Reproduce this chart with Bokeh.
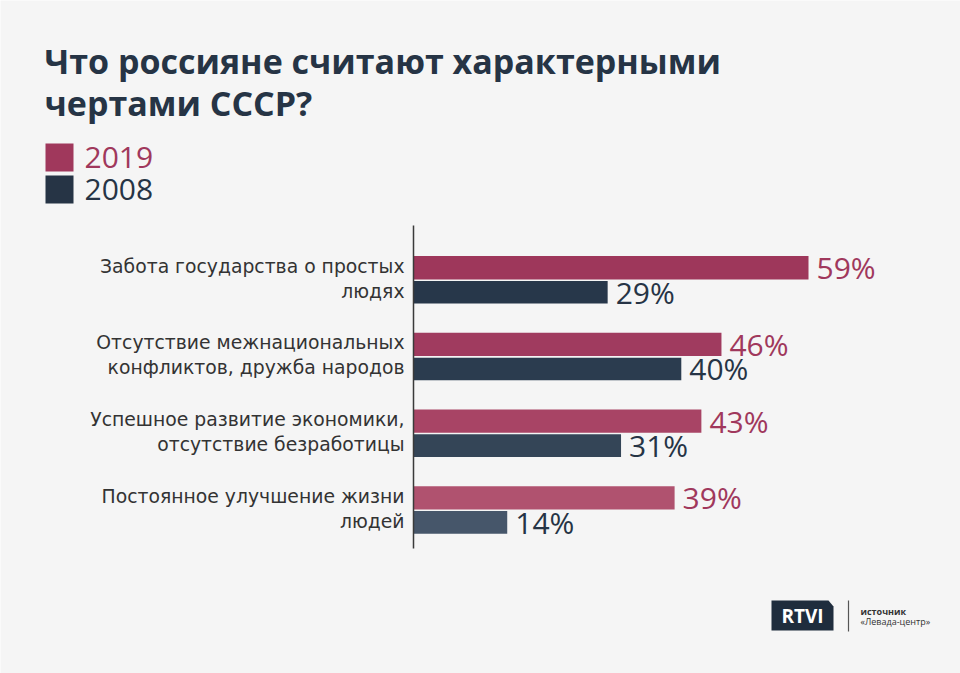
from bokeh.plotting import figure
from bokeh.models import Range1d, Label, PolyAnnotation, ColumnDataSource
from bokeh.core.properties import value
from bokeh.embed import file_html
from bokeh.resources import INLINE

# ---- data ----
categories = [
    "Забота государства о простых\nлюдях",
    "Отсутствие межнациональных\nконфликтов, дружба народов",
    "Успешное развитие экономики,\nотсутствие безработицы",
    "Постоянное улучшение жизни\nлюдей",
]
values_2019 = [59, 46, 43, 39]
values_2008 = [29, 40, 31, 14]
series_names = ["2019", "2008"]

# styles
colors_2019 = ["#9e375b", "#a03b5f", "#a84465", "#b0526f"]
colors_2008 = ["#27374a", "#2b3c4f", "#344557", "#46566a"]
C19 = "#a0385c"
C08 = "#263445"
BG = "#f5f5f5"
FONT = "Open Sans"
CAT_FONT = "DejaVu Sans"

W, H = 960, 673
# layout: axis at px 413, 59% at px 808; group centres at px 279.5 with 76.7 px spacing
PX_PER_UNIT = (808 - 413) / 59.0
X0 = -413 / PX_PER_UNIT
X1 = (W - 413) / PX_PER_UNIT
G_PX = 76.7
Y_TOP = -279.5 / G_PX
Y_BOT = (H - 279.5) / G_PX


def X(px):
    return X0 + px * (X1 - X0) / W


def Y(py):
    return Y_TOP + py * (Y_BOT - Y_TOP) / H


p = figure(width=W, height=H, output_backend="svg", toolbar_location=None,
           x_range=Range1d(X0, X1), y_range=Range1d(Y_BOT, Y_TOP),
           min_border=0, min_border_left=0, min_border_right=0,
           min_border_top=0, min_border_bottom=0,
           background_fill_color=BG, border_fill_color=BG)
p.axis.visible = False
p.grid.visible = False
p.outline_line_color = None

idx = list(range(len(categories)))
off = 0.16
src = ColumnDataSource(dict(
    y19=[i - off for i in idx], y08=[i + off for i in idx],
    v19=values_2019, v08=values_2008,
    c19=colors_2019, c08=colors_2008,
    t19=[f"{v}%" for v in values_2019], t08=[f"{v}%" for v in values_2008],
))

p.hbar(y="y19", left=0, right="v19", height=0.305, fill_color="c19", line_color=None, source=src)
p.hbar(y="y08", left=0, right="v08", height=0.295, fill_color="c08", line_color=None, source=src)

p.text(x="v19", y="y19", text="t19", x_offset=8, text_baseline="middle",
       text_font=value(FONT), text_font_size="30px", text_color=C19, source=src)
p.text(x="v08", y="y08", text="t08", x_offset=8, text_baseline="middle",
       text_font=value(FONT), text_font_size="30px", text_color=C08, source=src)

# axis line
n = len(categories)
p.segment(x0=[0], y0=[-0.71], x1=[0], y1=[n - 1 + 0.5], line_color="#3a3a3a", line_width=1.5)

# category labels
l1 = [c.split("\n")[0] for c in categories]
l2 = [c.split("\n")[1] for c in categories]
p.text(x=[0] * n, y=idx, text=l1, x_offset=-9, y_offset=-14, text_align="right",
       text_baseline="middle", text_font=value(CAT_FONT), text_font_size="18.8px", text_color="#333333")
p.text(x=[0] * n, y=idx, text=l2, x_offset=-9, y_offset=11, text_align="right",
       text_baseline="middle", text_font=value(CAT_FONT), text_font_size="18.8px", text_color="#333333")

# title
for txt, base in [("Что россияне считают характерными", 60), ("чертами СССР?", 102)]:
    p.add_layout(Label(x=X(44), y=Y(base), text=txt, text_font=FONT, text_font_style="bold",
                       text_font_size="34px", text_color=C08, text_baseline="alphabetic"))

# legend
for name, col, top in [(series_names[0], C19, 143), (series_names[1], C08, 175)]:
    p.add_layout(PolyAnnotation(xs=[X(45), X(73), X(73), X(45)],
                                ys=[Y(top), Y(top), Y(top + 28), Y(top + 28)],
                                fill_color=col, fill_alpha=1, line_color=None))
    p.add_layout(Label(x=X(84), y=Y(top + 14), text=name, text_font=FONT, text_font_size="30px",
                       text_color=col, text_baseline="middle"))

# logo
p.add_layout(PolyAnnotation(xs=[X(771), X(828), X(833), X(833), X(771)],
                            ys=[Y(600), Y(600), Y(606), Y(630), Y(630)],
                            fill_color="#1f2d3d", fill_alpha=1, line_color=None))
p.add_layout(Label(x=X(802), y=Y(615), text="RTVI", text_font=FONT, text_font_style="bold",
                   text_font_size="19px", text_color="white", text_align="center", text_baseline="middle"))
p.segment(x0=[X(848)], y0=[Y(600)], x1=[X(848)], y1=[Y(631)], line_color="#555555", line_width=1.2)
p.add_layout(Label(x=X(860), y=Y(611), text="источник", text_font=FONT, text_font_style="bold",
                   text_font_size="9px", text_color="#333333", text_baseline="middle"))
p.add_layout(Label(x=X(860), y=Y(621), text="«Левада-центр»", text_font=FONT,
                   text_font_size="9px", text_color="#333333", text_baseline="middle"))

open("out.html", "w").write(file_html(p, INLINE))
